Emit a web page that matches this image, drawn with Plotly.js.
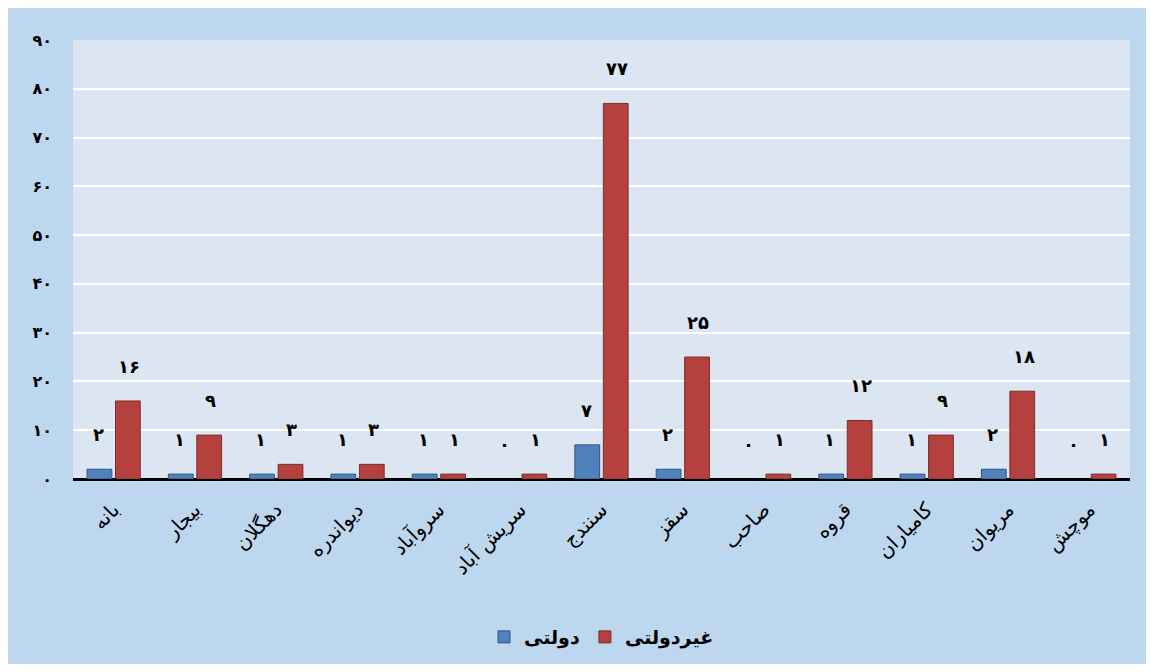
<!DOCTYPE html>
<html><head><meta charset="utf-8">
<script src="https://cdn.plot.ly/plotly-3.0.1.min.js"></script>
<style>
html,body{margin:0;padding:0;background:#ffffff;}
#chart{position:absolute;left:8px;top:8px;width:1138px;height:656px;}
</style></head>
<body><div id="chart"></div>
<script>
const categories = ["بانه","بیجار","دهگلان","دیواندره","سروآباد","سریش آباد","سنندج","سقز","صاحب","قروه","کامیاران","مریوان","موچش"];
const govValues = [2,1,1,1,1,0,7,2,0,1,1,2,0];
const nonGovValues = [16,9,3,3,1,1,77,25,1,12,9,18,1];
const seriesNames = ["دولتی","غیردولتی"];
const yTickVals = [0,10,20,30,40,50,60,70,80,90];

function fa(n){return String(n).replace(/\d/g,d=>"۰۱۲۳۴۵۶۷۸۹"[d]);}

const font = "DejaVu Sans, Noto Sans, sans-serif";
const traces = [
 {type:"bar",name:seriesNames[0],x:categories,y:govValues,
  marker:{color:"#4F81BD",line:{color:govValues.map(v=>v===0?"rgba(0,0,0,0)":"#2F5482"),width:1}}},
 {type:"bar",name:seriesNames[1],x:categories,y:nonGovValues,
  marker:{color:"#B5413E",line:{color:nonGovValues.map(v=>v===0?"rgba(0,0,0,0)":"#7E2C2A"),width:1}}}
];
const annotations=[];
[govValues,nonGovValues].forEach((vals,s)=>{
 vals.forEach((v,i)=>{
  annotations.push({x:categories[i],y:v,xref:"x",yref:"y",text:fa(v),showarrow:false,
   yanchor:"bottom",yshift:22,xshift:s===0?-15.5:15.5,
   font:{family:font,size:18,color:"#000",weight:"bold"}});
 });
});
const layout={
 width:1138,height:656,
 paper_bgcolor:"#BDD7EE",plot_bgcolor:"#DCE6F2",
 margin:{l:65,r:16,t:32,b:185,autoexpand:false},
 barmode:"group",bargap:0.30,bargroupgap:0.13,
 showlegend:true,
 legend:{orientation:"h",x:0.5,xanchor:"center",y:-0.36,yanchor:"middle",
  font:{family:font,size:19,color:"#000",weight:"bold"}},
 xaxis:{type:"category",automargin:false,tickangle:-45,tickfont:{family:font,size:20,color:"#000"},
  showline:false,ticks:"",showgrid:false,ticklabelstandoff:14},
 yaxis:{range:[0,90],automargin:false,tickvals:yTickVals,ticktext:yTickVals.map(fa),
  tickfont:{family:font,size:16,color:"#000",weight:"bold"},
  gridcolor:"#ffffff",gridwidth:2,zeroline:true,zerolinecolor:"#000",zerolinewidth:3,
  showline:false,ticks:"",ticklabelstandoff:20},
 annotations:annotations
};
Plotly.newPlot("chart",traces,layout,{displayModeBar:false,responsive:false});
</script></body></html>
